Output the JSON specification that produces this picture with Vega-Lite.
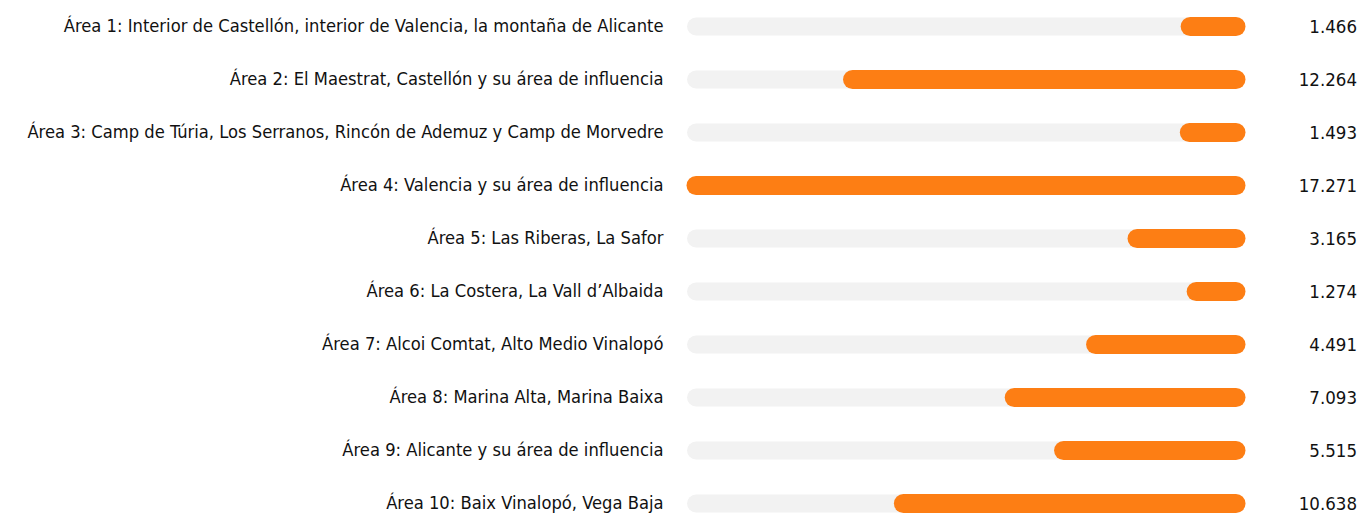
{
  "$schema": "https://vega.github.io/schema/vega-lite/v6.json",
  "autosize": {"type": "none"},
  "padding": {"left": 687, "top": 0, "right": 0, "bottom": 0},
  "width": 673,
  "height": 515,
  "background": "white",
  "config": {
    "view": {"stroke": null},
    "font": "DejaVu Sans Condensed",
    "locale": {"number": {"decimal": ",", "thousands": ".", "grouping": [3], "currency": ["", " €"]}}
  },
  "data": {
    "values": [
      {"area": "Área 1: Interior de Castellón, interior de Valencia, la montaña de Alicante", "total": 17271, "value": 1466},
      {"area": "Área 2: El Maestrat, Castellón y su área de influencia", "total": 17271, "value": 12264},
      {"area": "Área 3: Camp de Túria, Los Serranos, Rincón de Ademuz y Camp de Morvedre", "total": 17271, "value": 1493},
      {"area": "Área 4: Valencia y su área de influencia", "total": 17271, "value": 17271},
      {"area": "Área 5: Las Riberas, La Safor", "total": 17271, "value": 3165},
      {"area": "Área 6: La Costera, La Vall d’Albaida", "total": 17271, "value": 1274},
      {"area": "Área 7: Alcoi Comtat, Alto Medio Vinalopó", "total": 17271, "value": 4491},
      {"area": "Área 8: Marina Alta, Marina Baixa", "total": 17271, "value": 7093},
      {"area": "Área 9: Alicante y su área de influencia", "total": 17271, "value": 5515},
      {"area": "Área 10: Baix Vinalopó, Vega Baja", "total": 17271, "value": 10638}
    ]
  },
  "encoding": {
    "y": {
      "field": "area",
      "type": "nominal",
      "sort": null,
      "scale": {"range": [0, 530], "paddingInner": 0, "paddingOuter": 0},
      "axis": {
        "title": null,
        "domain": false,
        "ticks": false,
        "labelPadding": 24,
        "labelLimit": 700,
        "labelFontSize": 18.2,
        "labelColor": "#111111",
        "labelFont": "DejaVu Sans Condensed"
      }
    }
  },
  "layer": [
    {
      "mark": {"type": "rule", "strokeWidth": 18, "strokeCap": "round", "color": "#f2f2f2"},
      "encoding": {
        "x": {"field": "total", "type": "quantitative", "scale": {"domain": [0, 17271], "range": [549, 9], "nice": false, "zero": false}, "axis": null},
        "x2": {"datum": 0}
      }
    },
    {
      "mark": {"type": "rule", "strokeWidth": 19, "strokeCap": "round", "color": "#fd7e14"},
      "encoding": {
        "x": {"field": "value", "type": "quantitative"},
        "x2": {"datum": 0}
      }
    },
    {
      "mark": {"type": "text", "align": "right", "baseline": "middle", "dx": 121, "fontSize": 18.5, "color": "#111111"},
      "encoding": {
        "x": {"datum": 0, "type": "quantitative"},
        "text": {"field": "value", "type": "quantitative", "format": ",d"}
      }
    }
  ]
}
